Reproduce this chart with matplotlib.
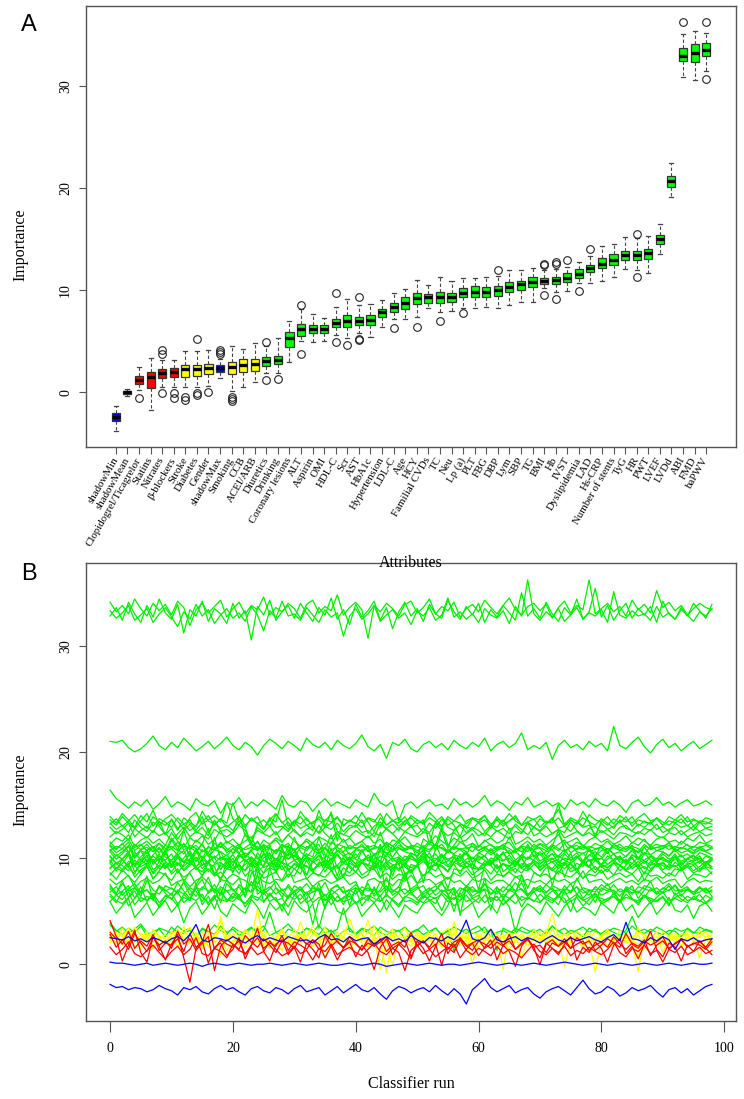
import matplotlib
matplotlib.use("Agg")
import matplotlib.pyplot as plt
import numpy as np

# ---------------- Panel A data (box statistics per attribute) ----------------
attributes = ["shadowMin", "shadowMean", "Clopidogrel/Ticagrelor", "Statins", "Nitrates",
              "β-blockers", "Stroke", "Diabetes", "Gender", "shadowMax", "Smoking", "CCB",
              "ACEI/ARB", "Diuretics", "Drinking", "Coronary lesions", "ALT", "Aspirin", "OMI",
              "HDL-C", "Scr", "AST", "HbA1c", "Hypertension", "LDL-C", "Age", "HCY",
              "Familial CVDs", "TC", "Neu", "Lp (a)", "PLT", "FBG", "DBP", "Lym", "SBP", "TG",
              "BMI", "Hb", "IVST", "Dyslipidemia", "LAD", "Hs-CRP", "Number of stents", "TyG",
              "HR", "PWT", "LVEF", "LVDd", "ABI", "FMD", "baPWV"]
decision = ["shadow", "shadow", "rejected", "rejected", "rejected", "rejected", "tentative",
            "tentative", "tentative", "shadow", "tentative", "tentative", "tentative"] + ["confirmed"] * 39

box_median = [-2.4, 0.0, 1.25, 1.53, 1.86, 1.95, 2.25, 2.25, 2.35, 2.35, 2.45, 2.67, 2.77,
              3.09, 3.16, 5.34, 6.16, 6.19, 6.19, 6.81, 7.0, 7.0, 7.07, 7.83, 8.38, 8.77, 9.2,
              9.3, 9.3, 9.36, 9.68, 9.85, 9.85, 10.0, 10.33, 10.6, 10.82, 10.92, 11.0, 11.2,
              11.57, 12.2, 12.6, 12.95, 13.43, 13.4, 13.6, 15.0, 20.67, 32.9, 33.17, 33.5]
box_q1 = [-2.78, -0.12, 0.81, 0.39, 1.43, 1.47, 1.53, 1.6, 1.76, 2.02, 1.76, 2.0, 2.11,
          2.57, 2.74, 4.46, 5.54, 5.83, 5.77, 6.36, 6.42, 6.58, 6.58, 7.34, 7.89, 8.15, 8.64,
          8.77, 8.77, 8.87, 9.29, 9.29, 9.36, 9.45, 9.78, 10.0, 10.27, 10.6, 10.57, 10.82,
          11.15, 11.8, 12.13, 12.5, 12.95, 12.95, 13.0, 14.55, 20.12, 32.42, 32.35, 32.9]
box_q3 = [-2.05, 0.1, 1.62, 2.0, 2.25, 2.4, 2.67, 2.67, 2.77, 2.67, 3.0, 3.3, 3.3,
          3.42, 3.55, 5.93, 6.65, 6.58, 6.58, 7.17, 7.56, 7.4, 7.56, 8.12, 8.77, 9.29, 9.68,
          9.59, 9.85, 9.68, 10.17, 10.4, 10.3, 10.43, 10.8, 10.9, 11.3, 11.2, 11.3, 11.64,
          12.03, 12.5, 13.1, 13.55, 13.86, 13.85, 14.05, 15.4, 21.16, 33.73, 34.05, 34.15]
box_whislo = [-3.75, -0.4, 0.22, -1.7, 0.55, 0.55, 0.49, 0.55, 0.62, 1.37, 0.16, 0.55, 0.98,
              1.86, 1.86, 3.0, 5.05, 4.95, 5.05, 5.6, 5.28, 5.77, 5.38, 6.42, 7.14, 7.14, 7.4,
              8.22, 7.89, 7.95, 8.22, 8.28, 8.38, 8.25, 8.54, 8.87, 8.8, 10.17, 9.85, 9.94,
              10.7, 10.7, 10.9, 11.3, 12.03, 11.97, 11.64, 13.53, 19.08, 30.9, 30.56, 31.4]
box_whishi = [-1.35, 0.35, 2.5, 3.4, 3.16, 3.16, 4.04, 4.0, 4.14, 3.3, 4.53, 4.24, 4.79,
              4.5, 5.28, 7.0, 8.12, 7.63, 7.3, 8.38, 9.1, 8.54, 8.64, 9.03, 9.68, 10.1, 11.0,
              10.5, 11.25, 10.9, 11.2, 11.2, 11.3, 11.4, 11.97, 11.97, 12.2, 12.0, 12.07, 12.3,
              12.78, 13.34, 14.35, 14.48, 15.2, 15.1, 15.3, 16.44, 22.4, 35.1, 35.4, 35.2]
box_fliers = [[], [], [-0.6], [], [4.1, 3.75, -0.1], [-0.04, -0.6], [-0.43, -0.75],
              [5.2, -0.1, -0.26], [0.06], [4.14, 3.97, 3.75], [-0.5, -0.7, -0.8], [], [],
              [4.9, 1.2], [1.3], [], [8.54, 3.75], [], [], [9.75, 4.95], [4.63],
              [9.3, 5.19, 5.12], [], [], [6.29], [], [6.42], [], [7.0], [], [7.73], [], [],
              [11.95], [], [], [], [12.6, 12.45, 9.52], [12.8, 12.6, 9.13], [12.95], [9.94],
              [14.0], [], [], [], [15.46, 11.3], [], [], [], [36.2], [], [36.2, 30.7]]

# ---------------- Panel B data (importance history per classifier run) ----------------
h_shadowMin = [
-1.9,-2.2,-2.1,-2.4,-2.2,-2.3,-2.6,-2.4,-2.0,-2.3,
-2.5,-2.9,-2.2,-2.4,-2.1,-2.6,-2.8,-2.3,-2.0,-2.4,
-2.2,-2.6,-2.9,-2.3,-2.1,-2.5,-2.7,-2.2,-2.4,-2.8,
-2.3,-2.0,-2.6,-2.4,-2.2,-2.9,-2.5,-2.1,-2.7,-2.3,
-1.9,-2.4,-2.6,-2.2,-2.8,-3.3,-2.5,-2.1,-2.3,-2.7,
-2.4,-2.2,-2.6,-2.0,-2.5,-2.9,-2.3,-2.8,-3.75,-2.4,
-1.9,-1.35,-2.2,-2.6,-2.3,-2.0,-2.7,-2.4,-2.2,-2.8,
-3.2,-2.6,-2.3,-2.1,-2.5,-2.9,-2.2,-1.5,-2.3,-2.8,
-2.6,-2.1,-2.4,-3.0,-2.7,-2.2,-2.5,-2.3,-2.0,-2.6,
-3.1,-2.4,-2.2,-2.7,-2.3,-2.9,-2.5,-2.1,-1.9]
h_shadowMean = [
0.2,0.1,0.1,0.0,-0.1,0.0,0.1,-0.1,0.0,0.1,
0.0,-0.1,0.0,0.1,0.0,-0.2,0.0,0.1,0.0,-0.1,
0.0,0.1,0.0,-0.1,0.0,0.0,0.1,0.0,-0.1,0.0,
0.1,0.0,-0.1,0.0,0.1,0.0,-0.1,-0.1,0.0,0.1,
0.0,-0.1,0.0,0.1,0.0,-0.2,-0.1,0.0,0.1,0.0,
-0.1,0.0,0.1,0.0,-0.1,0.0,0.0,-0.1,0.0,0.1,
0.2,0.1,0.0,-0.1,0.0,0.1,0.0,-0.1,0.0,0.1,
0.0,-0.1,0.0,0.1,0.2,0.1,0.0,-0.1,0.0,0.1,
0.0,-0.1,0.0,0.1,0.0,-0.1,0.0,0.1,0.0,-0.1,
0.0,0.1,0.0,-0.1,0.0,0.1,0.0,0.0,0.1]
h_clopidogrel = [
1.6,0.9,1.4,2.1,1.0,0.7,1.3,1.8,1.1,0.5,
1.2,1.7,0.9,1.4,2.5,1.0,0.8,1.5,1.2,0.6,
1.9,1.3,1.0,1.6,0.9,1.2,2.2,1.4,0.8,1.1,
1.7,1.0,1.3,0.4,1.5,1.2,1.9,0.9,1.3,1.6,
1.1,0.8,1.4,2.0,1.2,0.9,1.5,1.1,-0.6,1.3,
1.8,1.0,1.4,0.7,1.2,1.6,1.1,2.3,1.3,0.9,
1.5,1.2,0.8,1.7,1.0,1.4,1.1,0.6,1.3,1.9,
1.2,0.9,1.5,1.1,1.7,0.8,1.3,1.0,1.6,1.2,
0.9,1.4,2.1,1.1,0.7,1.5,1.2,1.8,1.0,1.3,
0.2,1.4,1.1,1.7,0.9,1.2,1.6,1.0,1.3]
h_statins = [
3.0,2.4,0.3,1.8,3.2,1.1,0.2,2.6,1.7,0.4,
1.9,2.8,0.6,-1.7,1.5,2.2,0.1,1.6,2.0,0.8,
1.4,2.5,0.5,1.8,3.4,1.2,0.3,1.9,2.3,0.9,
1.6,0.2,2.0,1.4,0.6,2.7,1.7,0.4,1.5,2.1,
0.7,1.8,1.1,-0.5,1.6,2.4,0.9,1.9,1.3,0.5,
2.2,1.5,0.3,1.7,2.9,1.0,1.9,0.6,1.4,2.0,
0.8,1.6,2.3,0.4,1.8,1.2,-0.2,1.7,2.5,1.3,
0.6,2.0,1.5,0.9,1.9,2.6,0.4,1.6,1.1,2.1,
1.5,0.2,1.8,2.4,1.0,1.7,0.5,1.9,3.1,1.4,
0.7,2.0,1.6,0.3,1.8,1.2,2.2,1.5,0.9]
h_nitrates = [
4.1,2.6,1.9,3.1,1.5,2.2,1.7,2.8,1.3,2.0,
1.8,2.4,1.2,2.9,1.6,2.1,3.75,1.4,2.3,1.9,
1.6,2.2,0.9,1.8,2.5,1.5,2.0,1.7,2.7,1.3,
2.1,1.8,1.4,2.3,1.9,0.6,1.7,2.2,1.5,2.6,
1.9,1.4,2.0,1.7,2.4,1.2,1.8,2.1,1.6,3.0,
1.7,2.2,1.4,1.9,-0.1,2.0,1.6,2.5,1.8,1.3,
2.2,1.9,1.5,2.1,1.7,2.8,1.4,1.9,2.3,1.6,
1.8,1.1,2.0,1.7,2.4,1.5,1.9,2.2,1.3,1.8,
2.1,1.6,2.6,1.9,1.4,2.0,1.7,2.3,0.8,1.8,
2.2,1.5,1.9,2.4,1.6,2.0,1.8,1.4,2.1]
h_bblockers = [
2.8,1.6,2.3,1.4,2.9,2.0,1.2,2.5,1.8,2.2,
1.5,3.1,1.9,2.4,1.3,2.0,2.6,-0.6,1.7,2.3,
1.9,1.4,2.7,2.1,1.6,2.4,1.8,1.1,2.2,2.0,
1.5,2.5,1.9,2.3,1.4,1.8,2.9,2.1,1.6,2.2,
2.0,1.3,2.4,1.7,2.1,2.6,1.5,1.9,2.3,0.7,
1.8,2.2,1.6,2.5,1.9,1.4,2.1,2.4,1.7,2.0,
2.3,1.5,1.9,2.6,1.8,2.2,1.4,2.0,2.4,1.6,
-0.05,1.9,2.3,1.7,2.1,1.5,2.5,1.9,2.2,1.3,
1.8,2.4,2.0,1.6,2.9,1.9,1.5,2.2,1.8,2.1,
2.6,1.4,2.0,2.3,1.7,1.9,2.2,1.6,2.4]
h_stroke = [
2.6,1.9,2.4,3.2,1.6,2.2,2.8,1.4,2.5,2.0,
2.3,1.7,3.6,2.1,2.5,1.5,2.7,2.2,0.9,2.4,
2.0,2.6,1.6,2.3,2.9,1.8,2.5,2.2,1.3,2.6,
2.1,4.0,2.4,1.7,2.2,2.6,1.9,2.4,1.5,2.3,
2.7,2.0,1.6,2.5,-0.45,2.2,2.8,1.8,2.4,2.1,
1.7,2.5,2.3,1.5,2.6,2.0,2.9,1.8,2.3,2.5,
1.6,2.2,2.7,1.9,2.4,1.4,2.1,2.6,2.3,1.8,
2.5,2.0,3.3,2.2,1.6,2.4,2.7,1.9,2.2,-0.75,
2.3,2.6,1.7,2.1,2.5,2.0,2.8,1.5,2.4,2.2,
1.9,2.6,2.1,1.6,2.4,2.7,2.0,2.3,1.8]
h_diabetes = [
2.0,2.7,1.8,2.3,2.6,1.5,2.4,2.9,1.9,2.2,
2.6,1.7,2.3,2.0,2.8,1.6,2.5,2.1,2.4,1.3,
2.2,2.7,1.9,2.4,5.2,2.1,1.6,2.5,2.3,1.8,
2.6,2.0,2.4,1.7,2.2,3.5,1.9,2.3,2.6,1.4,
2.1,2.5,1.8,2.3,2.7,2.0,-0.1,2.4,2.2,1.7,
2.6,1.9,2.3,2.5,1.6,2.1,4.0,2.2,1.8,2.4,
2.7,2.0,1.5,2.3,2.6,1.9,2.2,2.5,1.7,2.4,
2.1,2.8,1.9,2.3,-0.25,2.2,2.6,1.8,2.4,2.0,
2.5,1.6,2.3,2.7,2.0,2.2,1.9,2.5,2.3,1.7,
2.4,2.1,2.6,1.8,2.2,2.5,0.6,2.3,2.0]
h_gender = [
2.2,2.8,1.9,2.5,2.3,1.7,2.7,2.1,2.6,2.4,
1.8,2.9,2.3,2.0,2.6,2.4,1.6,2.8,2.2,2.5,
2.7,2.0,2.4,1.9,3.3,2.6,2.2,1.8,2.5,2.3,
2.0,2.7,2.4,1.7,2.6,2.2,2.9,2.0,2.4,2.6,
1.9,2.5,4.15,2.3,2.0,2.7,2.2,1.8,2.5,2.4,
2.8,2.1,2.6,1.7,2.3,2.5,2.0,2.7,2.4,0.05,
2.2,2.6,1.9,2.4,2.8,2.1,2.5,2.3,1.8,2.6,
2.4,2.0,2.7,2.2,1.9,2.5,2.3,2.8,2.0,2.4,
2.6,1.7,2.3,2.5,2.1,2.7,0.8,2.4,2.2,2.6,
1.9,2.4,2.7,2.1,2.5,2.3,1.8,2.6,2.2]
h_shadowMax = [
2.5,2.4,2.3,2.6,2.2,2.4,2.1,2.5,2.3,2.0,
2.4,2.6,2.2,2.8,3.75,2.3,2.1,2.5,2.4,2.2,
2.6,2.3,2.0,2.4,2.7,2.2,2.5,2.3,2.1,2.6,
2.4,2.2,2.3,2.0,2.5,2.8,2.3,2.4,2.1,2.6,
2.2,2.4,2.5,1.9,2.3,2.6,2.2,2.4,2.1,2.7,
2.3,2.0,2.5,2.4,2.2,2.6,2.3,2.9,4.15,2.4,
2.2,2.5,3.3,2.3,2.1,2.4,2.6,2.2,2.5,2.3,
2.0,2.4,2.7,2.3,2.1,2.5,2.2,2.4,2.6,2.3,
2.1,2.5,2.8,2.2,3.95,2.4,2.3,2.0,2.5,2.2,
2.6,2.3,1.4,2.4,2.2,2.5,2.1,2.3,2.4]
h_smoking = [
2.9,2.0,3.4,1.8,2.6,2.3,3.1,1.6,2.5,2.8,
2.1,3.3,2.4,1.9,2.7,3.0,1.7,2.4,4.5,2.2,
2.6,1.8,3.1,2.5,2.0,2.8,1.5,2.4,3.2,2.1,
2.7,2.3,1.9,2.9,2.5,0.6,2.2,3.0,2.6,1.8,
2.4,2.9,2.1,3.6,2.3,-0.8,2.7,2.0,2.5,3.1,
1.9,2.6,2.2,2.9,1.7,2.4,3.0,2.3,2.7,1.6,
2.5,3.2,2.0,2.6,-0.5,2.8,2.2,1.9,2.7,2.4,
3.0,2.1,2.5,1.8,2.9,2.3,2.6,1.4,2.8,2.2,
2.5,3.3,1.9,2.4,2.7,2.0,-0.7,2.6,2.3,3.0,
2.1,2.7,2.4,1.7,2.9,2.2,2.6,3.1,2.0]
h_ccb = [
3.1,2.4,2.9,2.0,3.5,2.7,2.2,3.3,2.5,1.9,
2.8,3.2,2.3,2.6,3.0,1.8,2.9,2.4,3.4,2.1,
2.7,3.1,2.5,2.0,3.6,2.8,2.2,2.6,3.3,2.4,
1.7,2.9,2.6,3.2,2.3,2.8,2.0,3.0,2.5,4.25,
2.7,2.2,3.1,2.6,1.9,2.8,3.3,2.4,2.7,2.1,
3.0,2.5,2.8,1.6,2.9,3.4,2.3,2.6,3.1,2.2,
2.8,2.4,3.2,2.7,2.0,2.5,3.0,0.55,2.6,2.9,
2.3,3.3,2.5,2.8,2.1,3.1,2.6,2.4,3.0,1.8,
2.7,3.2,2.4,2.6,2.9,2.2,3.4,2.5,2.8,2.0,
3.1,2.6,2.3,2.9,2.7,2.1,3.2,2.5,2.8]
h_acei = [
2.3,3.0,2.6,3.4,2.1,2.9,2.5,3.2,2.7,1.8,
3.1,2.4,2.8,3.5,2.2,2.7,3.0,2.4,4.1,2.6,
2.9,2.2,3.3,2.6,2.0,3.1,2.8,2.4,3.0,2.5,
3.3,2.1,2.7,3.6,2.4,2.9,2.6,2.2,3.2,2.8,
2.5,3.0,1.5,2.7,3.2,2.4,2.9,2.6,3.4,2.2,
2.8,2.5,3.1,2.7,2.0,2.9,3.3,2.6,2.4,3.0,
2.7,2.2,3.2,2.8,2.5,3.0,2.4,2.9,2.1,3.3,
2.6,2.8,4.8,2.5,2.9,2.3,3.1,2.7,2.4,3.0,
2.6,2.9,2.2,3.2,2.7,2.5,3.0,2.8,2.3,3.1,
1.0,2.7,2.9,2.4,3.2,2.6,2.8,3.0,2.5]
h_diuretics = [
3.9,3.2,2.8,3.4,3.0,3.6,2.7,3.1,3.3,2.6,
3.5,3.0,2.9,3.2,2.5,3.4,3.1,2.8,3.6,3.0,
3.3,2.7,3.1,3.5,2.9,3.2,4.9,3.0,2.6,3.3,
3.1,2.8,3.4,3.0,3.7,2.9,3.2,2.6,3.1,3.4,
2.8,3.3,3.0,2.7,3.5,3.1,2.9,3.2,2.4,3.0,
3.3,2.8,3.1,3.4,2.7,3.2,1.2,3.0,3.3,2.9,
3.1,3.5,2.6,3.0,3.2,2.8,3.4,3.1,2.9,3.3,
2.7,3.0,3.6,3.1,2.8,3.2,3.0,2.6,3.4,3.1,
2.9,3.3,3.0,2.7,3.2,4.5,3.1,2.9,3.3,3.0,
2.8,3.2,3.1,2.6,3.4,3.0,2.9,3.3,3.1]
h_drinking = [
3.7,3.1,3.5,2.9,3.3,3.8,3.0,2.7,3.4,3.2,
2.9,3.6,3.1,3.4,2.6,3.3,3.0,3.7,3.2,2.8,
3.5,3.1,2.9,3.4,3.2,3.6,2.7,3.0,3.3,3.8,
3.1,2.9,3.4,3.2,2.8,3.5,3.0,3.3,5.3,3.1,
2.9,3.4,3.2,3.6,3.0,2.7,3.3,3.1,3.5,2.9,
3.2,3.7,3.0,3.4,2.8,3.1,3.5,3.2,2.9,3.3,
3.6,3.0,3.2,1.3,3.4,3.1,2.9,3.5,3.2,3.0,
3.3,2.8,3.6,3.1,3.4,2.9,3.2,3.5,3.0,3.3,
2.7,3.1,3.4,3.2,2.9,3.6,3.1,3.3,3.0,3.5,
3.2,2.8,3.4,3.1,3.3,2.9,3.5,3.2,3.0]
h_coronary = [
5.9,4.8,5.5,6.2,4.4,5.1,5.8,4.6,5.4,6.0,
4.9,5.6,3.9,5.3,5.9,4.7,5.5,6.4,5.0,4.5,
5.7,5.2,4.8,6.1,5.4,4.3,5.8,5.1,5.6,4.6,
6.0,5.3,4.9,5.7,3.4,5.5,6.3,5.0,4.7,5.4,
5.9,4.5,5.2,5.8,4.9,6.1,5.3,4.4,5.6,5.1,
4.8,5.7,6.0,5.2,4.6,5.5,7.0,4.9,5.3,5.8,
4.4,5.1,5.6,4.8,6.2,5.4,3.0,5.0,5.7,5.3,
4.7,5.9,5.2,4.5,5.5,6.0,4.9,5.4,5.1,4.6,
5.8,5.3,4.8,6.1,5.0,5.6,4.4,5.2,5.9,4.7,
5.4,6.3,5.1,4.9,5.6,4.3,5.5,5.8,5.0]
h_alt = [
6.4,5.8,6.9,5.5,6.2,7.3,5.9,6.6,5.3,6.1,
6.7,5.7,6.3,6.0,7.6,5.6,6.4,5.2,6.8,6.1,
5.9,6.5,5.4,6.2,8.55,5.8,6.6,6.0,5.5,6.3,
6.9,5.7,6.2,3.75,6.0,6.6,5.6,6.4,5.9,6.1,
7.0,5.5,6.3,5.8,6.5,5.1,6.2,6.7,5.9,6.0,
5.6,6.4,6.1,5.7,6.8,6.3,5.5,6.0,6.5,5.8,
6.2,8.1,5.9,6.4,5.6,6.1,6.7,5.4,6.3,6.0,
5.8,6.5,6.2,5.6,6.9,5.9,6.3,5.5,6.1,6.6,
5.7,6.0,6.4,5.8,7.1,6.2,5.6,6.5,6.0,5.9,
6.3,5.5,6.7,6.1,5.8,6.4,6.0,5.7,6.2]
h_aspirin = [
5.9,6.5,6.1,6.8,5.6,6.3,6.0,6.7,5.8,6.4,
6.2,5.5,6.6,6.0,7.2,6.3,5.8,6.5,6.1,5.9,
6.7,6.2,5.7,6.4,6.0,6.8,5.9,6.3,5.0,6.5,
6.1,6.6,5.8,6.2,7.65,6.0,6.4,5.9,6.3,6.7,
5.7,6.1,6.5,6.2,5.9,6.6,6.0,5.4,6.3,6.8,
6.1,5.8,6.4,6.2,6.6,5.9,6.3,6.0,7.0,6.2,
5.8,6.5,6.1,6.4,5.6,6.2,6.7,6.0,6.3,5.9,
6.6,6.1,5.8,6.4,6.2,4.95,6.5,6.0,6.3,6.7,
5.9,6.2,6.4,5.8,6.6,6.1,6.0,6.5,5.7,6.3,
6.8,6.0,6.2,5.9,6.4,6.1,6.6,5.8,6.3]
h_omi = [
6.6,6.0,5.7,6.3,6.9,5.9,6.4,6.1,5.5,6.5,
6.2,6.8,5.8,6.3,6.0,6.6,5.6,6.2,7.1,5.9,
6.4,6.1,5.7,6.5,6.3,5.9,6.7,6.0,6.2,5.4,
6.5,6.1,6.8,5.8,6.3,6.0,6.6,5.9,6.2,6.4,
5.7,6.3,6.0,7.3,5.9,6.5,6.1,5.6,6.4,6.2,
5.8,6.6,6.0,6.3,5.05,6.4,6.1,6.7,5.9,6.2,
6.5,5.8,6.3,6.0,6.6,6.2,5.7,6.4,6.1,6.9,
5.9,6.3,6.0,6.5,5.8,6.2,6.6,6.1,5.6,6.4,
6.2,6.0,6.7,5.9,6.3,6.1,5.8,6.5,6.2,6.0,
6.4,5.7,6.3,6.6,6.0,6.2,5.9,6.5,6.1]
h_hdlc = [
7.1,6.5,6.9,7.4,6.2,6.8,7.0,6.4,7.3,6.7,
6.1,7.0,6.6,7.2,6.9,5.9,6.8,7.5,6.5,6.9,
7.1,6.3,6.8,9.75,6.6,7.0,6.4,7.2,6.7,6.2,
6.9,7.3,6.5,6.8,7.1,6.4,7.0,6.6,5.6,6.9,
7.2,6.7,6.3,7.0,6.8,7.4,6.5,6.9,7.1,6.6,
6.2,6.8,7.2,6.5,7.0,6.7,4.95,6.9,7.3,6.4,
6.8,7.1,6.6,6.9,6.3,7.0,6.7,8.4,6.5,6.8,
7.2,6.4,6.9,7.0,6.6,6.8,7.3,6.2,6.9,7.1,
6.5,6.8,7.0,6.4,7.2,6.7,6.9,6.3,7.1,6.6,
6.8,7.4,6.5,6.9,7.0,6.6,6.8,7.2,6.4]
h_scr = [
7.5,6.6,7.9,6.3,7.2,6.8,8.3,6.0,7.4,7.0,
6.5,7.7,6.9,6.2,7.3,8.0,6.7,7.1,5.8,7.6,
6.9,7.3,6.4,7.8,7.0,6.6,9.1,7.2,6.3,7.5,
6.8,7.1,6.1,7.4,6.9,7.7,6.5,7.0,7.3,5.5,
7.2,6.7,7.6,6.4,7.0,8.2,6.8,7.3,6.6,7.1,
7.5,6.2,7.0,6.9,7.8,6.5,7.2,4.6,7.4,6.8,
7.0,7.6,6.6,7.3,6.1,7.1,6.9,7.7,6.4,7.2,
6.8,7.5,7.0,6.3,7.4,6.7,8.1,7.0,6.5,7.3,
6.9,7.6,6.6,7.1,6.8,7.4,6.2,7.0,7.8,6.6,
7.2,6.9,7.5,6.4,7.1,6.8,7.3,6.7,7.0]
h_ast = [
6.8,7.3,6.5,7.1,7.6,6.7,7.0,6.2,7.4,6.9,
7.2,6.6,7.8,7.0,6.4,7.3,6.9,7.1,6.6,8.0,
7.0,6.5,7.2,6.8,9.3,6.9,7.3,6.6,7.1,6.3,
7.4,7.0,6.7,7.2,6.9,5.2,7.1,7.5,6.8,7.0,
6.6,7.3,6.9,7.1,6.4,7.2,7.0,6.7,8.55,6.9,
7.3,6.6,7.0,7.4,6.8,7.1,6.5,7.2,6.9,7.3,
6.7,7.0,5.1,7.2,6.8,7.5,6.9,7.1,6.6,7.0,
7.4,6.8,7.2,6.5,7.1,6.9,7.3,6.7,7.0,5.8,
7.2,6.9,7.5,6.8,7.0,6.6,7.3,7.1,6.9,7.2,
6.7,7.0,7.4,6.8,7.1,6.6,7.2,6.9,7.3]
h_hba1c = [
7.3,6.7,7.6,6.9,7.2,6.4,7.9,7.0,6.6,7.4,
7.1,6.8,7.7,6.5,7.2,7.0,8.2,6.7,7.3,6.9,
6.2,7.5,7.0,6.8,7.4,6.6,7.1,7.8,6.9,7.3,
6.5,7.0,7.6,6.8,7.2,5.4,7.1,7.4,6.7,7.0,
7.5,6.9,7.2,6.6,7.8,7.0,6.8,7.3,8.65,6.7,
7.1,7.4,6.5,7.0,7.6,6.9,7.2,6.3,7.4,7.0,
6.8,7.5,7.1,6.6,7.3,6.9,7.7,7.0,6.4,7.2,
7.0,6.7,7.4,7.1,6.9,7.6,6.6,7.2,7.0,6.8,
7.5,7.1,6.9,5.9,7.3,7.0,6.7,7.4,7.2,6.8,
7.1,7.6,6.9,7.0,7.3,6.6,7.2,7.0,6.8]
h_hypertension = [
8.0,7.5,7.9,8.4,7.2,7.8,8.1,7.6,7.9,8.6,
7.4,7.8,8.0,7.3,7.9,8.2,7.7,6.8,8.0,7.8,
7.5,8.1,7.9,7.4,8.3,7.8,7.6,8.0,7.9,9.05,
7.7,7.9,8.1,7.3,7.8,8.0,7.6,7.9,8.2,7.5,
7.8,6.4,7.9,8.1,7.7,7.9,7.4,8.0,7.8,8.4,
7.6,7.9,8.0,7.5,7.8,8.2,7.7,7.9,7.3,8.0,
7.8,8.1,7.6,7.9,7.9,7.4,8.3,7.8,8.0,7.7,
7.9,7.5,8.1,7.8,8.0,7.6,7.9,8.8,7.7,7.9,
8.0,7.4,7.8,8.1,7.7,7.9,7.5,8.0,7.8,8.2,
7.6,7.9,8.0,7.2,7.8,8.1,7.7,7.9,7.8]
h_ldlc = [
8.6,8.0,8.9,8.3,7.7,8.5,9.2,8.1,8.7,8.4,
7.9,8.8,8.2,8.6,7.5,8.4,9.0,8.3,8.7,8.0,
8.5,8.2,6.3,8.6,8.9,8.1,8.4,8.7,7.8,8.5,
8.3,9.4,8.0,8.6,8.4,8.2,8.8,7.9,8.5,8.3,
8.7,8.1,8.4,9.7,8.2,8.6,8.0,8.5,8.3,8.9,
7.6,8.4,8.7,8.2,8.5,8.0,8.6,8.3,8.8,8.1,
8.4,8.9,7.9,8.5,8.3,8.7,8.2,8.4,7.15,8.6,
8.3,8.5,8.0,8.8,8.4,8.2,8.7,8.1,8.5,8.3,
8.9,8.0,8.4,8.6,8.2,8.5,7.8,8.7,8.3,8.4,
8.1,8.6,8.3,9.1,8.0,8.5,8.4,8.2,8.7]
h_age = [
8.4,9.1,8.7,9.5,8.2,8.9,9.3,8.0,8.8,9.6,
8.5,9.0,7.8,8.7,9.2,8.3,9.7,8.6,8.1,9.0,
8.8,9.4,8.3,8.9,7.5,8.6,9.1,8.8,9.3,8.2,
9.0,8.5,9.8,8.7,8.3,9.2,8.9,8.0,9.1,8.6,
9.4,8.4,8.8,9.0,8.1,9.3,8.7,10.1,8.5,8.9,
9.2,8.3,8.8,9.5,8.6,7.15,9.0,8.8,9.2,8.4,
8.9,9.1,8.5,9.4,8.2,8.8,9.0,8.6,9.3,8.7,
8.3,9.1,8.9,8.5,9.6,8.7,9.0,8.1,8.8,9.2,
8.6,9.0,8.4,9.3,8.8,8.5,9.1,7.9,8.9,9.4,
8.7,8.3,9.0,8.8,9.2,8.6,8.9,9.1,8.5]
h_hcy = [
9.5,8.8,9.9,9.1,8.5,9.6,10.3,8.9,9.3,9.0,
9.8,8.6,9.4,10.6,9.1,8.7,9.5,9.2,7.8,9.7,
9.0,9.4,8.8,10.1,9.3,8.6,9.6,9.2,11.0,8.9,
9.4,9.1,8.4,9.7,9.2,9.5,8.8,9.3,10.0,9.1,
8.7,9.6,9.2,8.9,9.8,6.4,9.4,9.0,9.5,8.6,
9.3,10.2,9.1,8.8,9.6,9.2,9.4,8.5,9.7,9.1,
8.9,9.5,9.3,10.4,8.7,9.2,9.6,9.0,8.8,9.4,
9.1,9.7,7.4,9.3,9.0,9.5,8.9,9.8,9.2,8.6,
9.4,9.1,9.6,8.8,9.3,10.1,9.0,9.2,8.7,9.5,
9.3,8.9,9.6,9.1,9.4,8.8,9.2,9.7,9.0]
h_famcvd = [
9.1,9.5,8.9,9.7,9.3,8.6,9.4,9.9,9.0,9.3,
8.7,9.5,9.2,9.8,8.9,9.4,9.6,8.4,9.3,9.0,
9.7,9.2,8.8,9.5,10.2,9.1,9.4,8.9,9.6,9.3,
9.0,9.5,9.2,8.7,9.4,9.8,9.1,9.3,8.2,9.5,
9.2,9.6,8.9,9.3,9.0,9.7,9.4,8.8,9.5,9.1,
9.3,10.5,9.0,9.4,9.2,8.7,9.6,9.3,9.1,9.5,
8.9,9.2,9.7,9.0,9.4,9.3,8.6,9.5,9.1,9.8,
9.2,9.4,8.8,9.3,9.6,9.0,9.5,9.2,9.9,8.9,
9.3,9.1,9.5,9.4,8.8,9.2,9.7,9.0,9.3,9.6,
8.9,9.4,9.2,9.5,9.1,9.3,8.7,9.6,9.2]
h_tc = [
9.8,9.0,9.5,10.3,8.7,9.4,9.9,8.5,9.2,10.6,
9.1,9.6,8.8,9.3,10.1,9.0,9.7,8.4,9.5,9.2,
10.0,8.9,9.4,9.8,8.6,9.3,11.25,9.1,9.6,8.8,
9.5,9.2,10.2,8.9,9.4,9.7,9.0,9.3,8.2,9.8,
9.1,9.6,9.3,10.4,8.8,9.5,9.0,9.7,9.2,8.6,
9.4,9.9,9.1,9.5,9.3,8.7,10.1,9.2,9.6,9.0,
7.0,9.4,9.8,9.1,9.5,8.9,9.3,10.0,9.2,9.6,
8.8,9.4,9.0,9.7,9.3,10.5,8.9,9.5,9.1,9.8,
9.2,8.7,9.6,9.3,9.9,9.0,9.4,8.5,9.7,9.2,
9.5,9.1,10.2,8.9,9.4,9.6,9.0,9.3,9.8]
h_neu = [
9.0,9.6,9.3,8.8,9.8,9.2,9.5,8.6,9.7,9.1,
9.4,10.2,8.9,9.5,9.2,9.8,8.7,9.4,9.6,9.0,
9.3,8.5,9.7,9.4,9.1,10.5,9.2,9.6,8.9,9.4,
9.8,9.1,9.3,8.8,9.6,9.2,10.9,9.0,9.5,9.3,
8.7,9.6,9.4,9.1,9.8,8.9,9.3,9.5,7.95,9.4,
9.2,9.7,9.0,9.5,9.3,8.8,9.6,10.1,9.2,9.4,
9.0,9.7,9.3,8.6,9.5,9.2,9.8,9.1,9.4,9.6,
8.9,9.3,9.7,9.0,9.5,9.4,8.7,9.6,9.2,10.3,
9.1,9.4,9.8,9.3,8.9,9.5,9.2,9.7,9.0,9.4,
9.6,9.1,9.3,8.8,9.5,9.4,9.7,9.2,9.0]
h_lpa = [
10.1,9.5,9.9,10.4,9.2,9.8,10.6,9.4,10.0,9.7,
9.1,10.2,9.6,9.9,10.8,9.3,9.7,10.1,8.9,9.8,
10.3,9.5,9.9,9.2,10.5,9.7,9.4,10.0,9.6,11.2,
9.8,9.3,10.2,9.6,9.9,8.7,9.7,10.3,9.5,10.0,
9.4,9.8,10.1,9.6,9.2,10.4,9.7,9.9,9.3,10.2,
9.6,7.7,9.8,10.0,9.5,9.7,10.3,9.4,9.9,10.1,
9.6,9.3,10.0,9.8,10.5,9.5,9.7,9.2,10.1,9.8,
9.4,10.0,9.6,9.9,8.2,9.7,10.2,9.5,9.8,10.0,
9.3,9.9,10.4,9.6,9.8,9.5,10.1,9.7,9.4,10.0,
9.8,9.6,10.2,9.3,9.9,9.7,10.0,9.5,9.8]
h_plt = [
9.6,10.3,9.9,9.2,10.6,9.8,9.4,10.2,9.7,10.8,
9.3,10.0,9.6,10.4,9.1,9.9,10.5,9.5,10.1,9.8,
8.6,10.3,9.7,10.0,9.4,11.2,9.8,9.3,10.2,9.9,
10.6,9.5,10.0,9.7,10.3,9.2,9.9,10.4,9.6,10.1,
9.4,10.7,9.8,9.5,10.2,9.9,8.3,10.0,9.7,10.3,
9.6,9.9,10.5,9.3,10.1,9.8,9.6,10.4,9.5,10.0,
9.8,10.2,9.4,9.9,10.6,9.7,9.2,10.1,9.9,10.3,
9.5,9.8,10.0,9.3,10.4,9.8,10.1,9.6,10.9,9.7,
10.0,9.4,9.9,10.2,9.6,10.0,9.3,10.5,9.8,9.7,
10.1,9.5,9.9,10.3,9.6,9.8,10.2,9.4,10.0]
h_fbg = [
10.2,9.5,9.9,10.6,9.3,9.8,10.1,9.6,10.4,9.1,
9.8,10.3,9.7,9.4,10.9,9.9,9.5,10.2,9.8,10.0,
9.3,10.5,9.7,10.1,9.6,9.2,10.3,9.9,9.5,10.7,
9.8,10.0,8.4,9.7,10.2,9.9,9.4,10.4,9.6,10.1,
9.9,9.5,10.3,9.8,11.3,9.6,10.0,9.4,10.2,9.9,
9.7,10.1,9.5,9.8,10.4,9.3,10.0,9.9,10.6,9.6,
10.2,9.8,9.4,10.0,9.7,10.3,9.5,10.1,8.9,9.9,
10.4,9.6,9.9,10.2,9.8,9.5,10.0,10.5,9.7,9.9,
9.4,10.2,9.8,10.0,9.6,10.3,9.9,9.5,10.1,9.8,
10.0,9.7,10.4,9.5,9.9,10.2,9.8,9.6,10.0]
h_dbp = [
9.7,10.3,9.9,10.6,9.4,10.1,10.8,9.6,10.2,9.8,
10.4,9.3,10.0,10.7,9.7,10.2,9.5,11.95,9.9,10.3,
9.6,10.1,10.5,9.8,9.2,10.0,10.4,9.7,10.9,9.9,
10.3,9.5,10.1,9.9,10.6,9.4,10.0,8.3,10.2,9.8,
10.4,9.7,10.0,10.3,9.6,11.4,9.9,10.1,9.5,10.2,
9.8,10.5,10.0,9.4,10.3,9.9,10.1,9.7,10.6,9.6,
10.0,10.2,9.5,10.4,9.8,10.0,9.3,10.3,9.9,10.7,
9.7,10.1,10.4,9.6,10.0,9.8,10.2,9.5,10.3,10.0,
9.9,10.6,9.7,10.1,9.4,10.3,10.0,9.8,10.2,9.6,
10.4,9.9,10.1,9.7,10.0,10.3,9.5,10.2,9.9]
h_lym = [
10.6,9.9,10.4,11.1,10.0,10.7,9.6,10.3,10.9,10.1,
9.8,10.5,11.4,10.2,9.7,10.8,10.3,10.0,10.6,9.4,
10.4,11.0,10.1,10.7,9.9,10.3,10.5,8.55,10.6,10.2,
10.9,9.8,10.4,10.1,11.95,10.3,9.9,10.7,10.2,10.5,
10.0,10.8,9.7,10.4,10.6,10.1,11.2,10.3,9.8,10.5,
10.2,10.7,10.0,10.4,9.6,10.8,10.3,10.1,10.6,9.9,
10.5,10.2,10.9,10.0,10.4,10.7,9.8,10.3,11.3,10.1,
10.6,9.9,10.4,10.2,10.8,10.0,10.5,9.7,10.3,10.6,
10.1,10.9,10.4,9.8,10.2,10.7,10.0,10.5,10.3,9.9,
10.6,10.2,10.8,10.1,10.4,9.9,10.5,10.3,10.0]
h_sbp = [
10.8,10.2,10.6,11.2,10.0,10.7,10.4,11.0,9.8,10.6,
10.9,10.3,10.7,9.5,10.5,11.4,10.1,10.8,10.6,10.2,
10.9,10.4,10.0,10.7,11.1,10.5,9.9,10.8,10.6,10.3,
11.95,10.6,10.1,10.8,10.4,10.9,10.2,10.7,10.5,9.7,
10.8,10.6,11.0,10.3,10.7,10.5,10.1,10.9,10.6,10.4,
10.2,10.8,10.6,11.3,10.0,10.7,10.4,10.9,10.6,8.9,
10.5,10.8,10.3,10.7,11.0,10.4,10.6,10.1,10.9,10.7,
10.3,10.6,10.8,10.0,10.5,11.2,10.6,10.4,10.8,10.2,
10.7,10.9,10.4,10.6,10.1,10.8,10.5,11.0,10.3,10.7,
10.6,10.2,10.9,10.5,10.7,10.4,10.8,10.6,10.3]
h_tg = [
11.1,10.5,10.9,11.5,10.2,10.8,11.3,10.6,11.0,10.3,
11.7,10.8,10.4,11.2,10.9,9.9,11.1,10.7,11.4,10.5,
10.9,11.3,10.2,10.8,11.6,10.6,11.0,10.4,11.2,10.8,
10.1,11.0,10.7,11.4,10.5,10.9,12.2,10.6,11.1,10.3,
10.8,11.3,10.6,10.9,11.1,10.4,10.8,11.5,10.7,11.0,
10.5,11.2,8.8,10.9,11.3,10.6,11.0,10.8,10.3,11.4,
10.7,11.1,10.5,10.9,11.2,10.4,10.8,11.0,10.6,11.3,
10.9,10.2,11.1,10.7,11.4,10.5,10.9,11.2,10.6,10.8,
11.0,10.4,11.3,10.8,10.6,11.1,10.9,10.3,11.2,10.7,
10.9,11.5,10.6,11.0,10.8,10.5,11.1,10.7,10.9]
h_bmi = [
10.7,11.1,10.9,10.5,11.3,10.8,11.0,10.6,11.4,10.9,
11.1,10.7,12.6,10.9,11.2,10.6,11.0,10.8,11.5,10.9,
10.5,11.1,10.8,11.0,10.7,11.3,10.9,10.6,11.2,11.0,
10.8,9.5,11.1,10.9,10.7,11.4,10.8,11.0,10.6,11.2,
10.9,11.1,10.7,11.0,12.45,10.8,10.6,11.2,10.9,11.1,
10.7,11.0,10.8,11.3,10.9,10.5,11.1,10.8,11.0,10.6,
11.2,10.9,10.7,11.1,10.8,12.0,10.9,10.6,11.1,10.8,
11.0,10.7,11.3,10.9,10.6,11.1,10.8,11.0,10.9,10.2,
11.2,10.8,11.0,10.7,11.1,10.9,10.6,11.3,10.8,11.0,
10.9,11.2,10.7,11.0,10.8,11.1,10.9,10.6,11.0]
h_hb = [
11.2,10.8,11.4,10.6,11.0,11.3,10.7,11.1,10.5,11.2,
10.9,11.5,10.8,11.0,10.6,11.3,12.8,10.9,11.1,10.7,
11.2,10.5,11.0,11.4,10.8,11.1,10.9,10.6,11.3,11.0,
10.7,11.2,10.9,11.5,10.8,11.0,10.4,11.3,11.1,10.9,
11.0,10.6,11.2,9.1,10.9,11.3,10.8,11.0,10.7,11.2,
11.1,10.8,11.4,10.9,11.0,10.6,11.2,12.05,10.9,11.1,
10.7,11.0,11.3,10.8,11.2,10.9,10.5,11.1,11.0,10.8,
11.3,10.9,11.1,12.6,10.7,11.0,11.2,10.8,11.1,10.9,
11.0,10.6,11.3,11.0,10.8,11.2,9.85,11.1,10.9,11.0,
11.2,10.8,11.1,10.9,11.3,10.7,11.0,11.2,10.9]
h_ivst = [
11.5,10.9,11.3,11.8,10.7,11.2,11.6,11.0,11.4,10.6,
11.9,11.1,11.3,10.8,11.7,11.2,10.5,11.4,11.0,11.6,
11.2,10.9,12.3,11.1,11.5,10.8,11.3,11.7,11.0,11.4,
10.7,11.2,11.6,11.0,11.3,9.95,11.5,11.1,11.8,10.9,
11.3,11.6,11.0,11.2,10.8,11.5,11.1,11.7,11.2,10.9,
11.4,11.0,11.6,11.2,12.95,11.3,10.8,11.5,11.1,11.4,
11.0,11.7,11.2,10.9,11.3,11.5,10.7,11.2,11.6,11.0,
11.4,11.1,10.8,11.3,11.7,11.0,11.5,11.2,10.9,11.4,
11.1,11.6,11.0,11.3,10.8,11.5,11.2,11.8,11.0,11.3,
11.1,11.4,10.9,11.6,11.2,11.0,11.5,11.3,11.1]
h_dyslipidemia = [
11.3,11.9,11.6,12.2,11.1,11.7,12.0,11.4,11.8,11.2,
12.4,11.6,11.0,11.9,11.5,12.1,11.3,11.7,12.6,11.4,
11.8,11.2,11.6,12.0,10.8,11.7,11.3,11.9,11.5,12.2,
11.6,11.1,11.8,11.4,12.0,11.7,11.3,12.3,11.5,11.9,
11.2,11.6,12.1,11.4,11.8,11.0,11.7,11.5,12.0,11.3,
9.95,11.8,11.4,12.1,11.6,11.2,11.9,11.5,11.7,12.3,
11.1,11.6,11.9,11.4,11.7,12.8,11.3,11.6,12.0,11.5,
11.8,11.2,11.7,12.2,11.4,11.6,11.9,11.1,11.7,12.0,
11.5,11.8,11.3,11.6,12.1,11.4,11.9,11.6,11.2,11.8,
12.0,11.5,11.7,11.3,11.9,11.6,12.2,11.4,11.7]
h_lad = [
12.0,12.5,12.2,11.7,12.8,12.3,11.9,12.6,12.1,12.4,
11.6,12.3,12.9,12.0,12.5,12.2,11.8,12.7,12.3,12.0,
12.4,14.0,12.1,11.9,12.6,12.3,12.0,12.5,11.5,12.2,
12.7,12.0,12.4,12.1,13.1,12.3,11.8,12.5,12.2,12.0,
12.6,12.2,11.9,12.4,12.1,12.8,12.3,11.7,12.5,12.2,
12.0,12.4,12.3,10.7,12.6,12.1,12.4,11.9,12.3,12.7,
12.1,12.4,12.0,12.6,12.2,11.8,12.5,12.3,13.35,12.1,
12.4,12.0,12.3,12.7,11.9,12.2,12.5,12.1,12.4,12.0,
12.6,12.2,11.8,12.4,12.3,12.0,12.5,12.2,12.7,12.1,
11.9,12.4,12.2,12.6,12.0,12.3,12.5,12.1,12.3]
h_hscrp = [
12.9,12.3,12.7,13.3,12.0,12.6,13.0,12.4,13.5,12.2,
12.8,11.8,12.6,13.2,12.4,12.9,12.1,13.6,12.5,12.7,
12.3,13.1,12.6,11.5,12.9,12.4,13.0,12.2,12.8,13.4,
12.5,12.1,12.7,13.0,12.3,12.9,14.35,12.5,12.2,12.8,
13.1,12.4,12.6,12.0,13.2,12.7,12.3,12.9,12.5,13.0,
12.2,12.8,12.4,13.3,12.6,10.9,12.7,13.1,12.4,12.9,
12.6,12.1,13.0,12.5,12.8,12.3,13.2,12.7,12.2,12.9,
12.5,13.0,12.3,12.7,12.4,13.4,12.6,12.1,12.8,13.0,
12.4,12.7,12.2,12.9,13.1,12.5,12.3,12.8,12.6,13.2,
12.4,12.7,12.9,12.2,12.6,13.0,12.5,12.8,12.6]
h_nstents = [
13.3,12.7,13.1,12.4,13.6,12.9,12.5,13.4,13.0,12.2,
13.7,12.8,13.2,12.6,13.0,13.9,12.4,13.3,12.8,13.1,
12.6,13.5,12.9,11.3,13.2,12.7,13.6,12.9,13.0,12.5,
13.4,12.8,13.1,12.6,14.5,13.0,12.7,13.3,12.5,13.1,
12.9,13.6,12.3,13.0,13.4,12.8,13.2,12.6,13.5,12.9,
13.1,12.4,13.3,12.8,13.7,12.9,12.6,13.2,13.0,12.7,
13.4,12.5,13.1,12.9,13.6,12.7,13.0,12.4,13.3,12.9,
12.6,13.2,13.8,12.8,13.0,12.5,13.4,12.9,13.1,12.2,
13.3,12.7,13.0,13.5,12.8,12.6,13.2,12.9,13.4,12.7,
13.0,12.5,13.3,12.9,13.1,12.6,13.4,12.8,13.0]
h_tyg = [
13.6,13.1,13.9,13.3,12.8,13.5,14.2,13.0,13.7,13.4,
12.9,13.8,13.2,13.6,12.6,13.4,14.0,13.1,13.7,13.3,
15.2,13.5,12.9,13.8,13.2,13.6,13.0,14.1,13.4,12.7,
13.5,13.9,13.1,13.4,13.7,12.9,13.3,13.8,13.0,13.6,
13.2,14.3,13.4,12.5,13.8,13.1,13.5,13.3,13.9,13.0,
13.6,13.2,13.8,13.4,12.9,13.7,13.1,12.0,13.5,13.8,
13.3,13.6,13.0,13.9,13.2,13.5,14.0,13.1,13.4,13.7,
12.9,13.5,13.3,13.8,13.0,13.6,13.2,14.4,13.4,13.1,
13.7,13.3,12.8,13.6,13.4,13.9,13.0,13.5,13.2,13.8,
13.4,13.1,13.6,13.3,13.9,13.0,13.5,13.4,13.2]
h_hr = [
13.2,13.7,13.0,13.5,14.1,13.3,12.8,13.9,13.4,13.1,
13.6,12.6,13.8,13.3,13.0,14.4,13.5,13.2,13.7,12.9,
13.4,13.9,13.1,13.6,13.3,12.7,13.8,13.4,15.5,13.0,
13.5,13.2,13.8,13.0,12.4,13.6,13.4,13.9,13.1,13.5,
13.3,12.9,13.7,13.4,14.2,13.1,13.6,13.0,13.5,13.8,
13.2,13.6,11.3,13.4,13.9,13.1,13.5,13.3,12.8,13.7,
13.4,14.0,13.2,13.6,13.0,13.5,13.8,13.1,13.4,12.9,
13.7,13.3,13.5,15.1,13.0,13.6,13.2,13.8,13.4,11.95,
13.5,13.1,13.7,13.3,13.9,13.0,13.6,13.4,13.2,13.8,
13.1,13.5,13.3,13.7,13.0,13.6,13.4,13.2,13.5]
h_pwt = [
13.9,13.3,14.2,13.6,12.9,14.0,13.4,14.5,13.1,13.7,
14.1,13.5,12.7,13.8,14.3,13.2,13.6,14.0,13.4,15.3,
13.7,13.1,14.1,13.5,13.9,12.8,13.6,14.2,13.3,13.8,
13.0,14.4,13.6,13.2,13.9,13.5,14.1,11.6,13.7,13.4,
14.0,13.3,13.8,13.6,12.9,14.2,13.5,13.8,13.1,14.0,
13.6,13.3,14.3,13.7,13.0,13.9,13.5,14.1,13.2,13.8,
13.6,14.0,12.8,13.7,13.4,14.2,13.5,13.1,13.9,13.6,
14.0,13.3,13.7,14.6,13.2,13.8,13.5,13.0,14.1,13.6,
13.4,13.9,13.2,14.0,13.6,13.3,13.8,14.2,13.5,13.7,
13.1,13.9,13.6,14.1,13.4,13.7,13.3,13.8,13.6]
h_lvef = [
16.4,15.6,15.2,14.7,15.3,14.9,15.5,14.6,15.1,15.8,
14.8,15.3,15.0,14.5,15.6,15.1,14.9,15.4,14.2,15.2,
15.0,15.7,14.7,15.3,14.9,15.5,15.1,14.6,15.9,15.0,
14.8,15.4,15.2,14.4,15.1,15.6,14.9,15.3,15.0,14.7,
15.5,15.1,14.8,16.1,15.2,14.9,15.4,13.5,15.0,15.3,
14.7,15.2,15.5,14.9,15.1,14.6,15.6,15.0,15.3,14.8,
15.2,15.9,14.9,15.4,15.1,14.5,15.3,15.0,15.7,14.8,
15.1,15.4,14.9,15.2,14.6,15.5,15.0,15.3,14.8,15.6,
15.1,14.9,15.4,15.0,14.3,15.2,15.5,14.9,15.1,15.7,
15.0,15.3,14.8,15.2,15.5,14.9,15.1,15.4,15.0]
h_lvdd = [
21.0,20.9,21.1,20.4,20.0,20.3,20.8,21.5,20.6,20.2,
20.9,20.4,21.3,20.7,20.1,20.5,21.0,20.3,20.8,21.4,
20.6,20.2,20.9,20.5,19.7,20.6,21.2,20.8,20.3,21.0,
20.6,20.1,21.3,20.7,20.4,20.9,20.2,21.1,20.6,20.3,
20.8,21.6,20.5,20.1,20.7,19.4,20.9,20.6,21.2,20.3,
20.0,20.7,21.0,20.4,20.8,20.2,21.1,20.6,20.3,20.9,
20.5,21.3,20.1,20.7,21.0,20.4,20.8,21.8,20.2,20.6,
20.3,20.9,19.3,20.6,21.1,20.4,20.7,20.2,21.0,20.5,
20.8,20.1,22.4,20.6,20.3,20.9,21.4,20.5,19.9,20.7,
21.2,20.4,20.8,20.1,20.6,21.0,20.3,20.7,21.1]
h_abi = [
33.3,32.6,33.1,33.8,32.4,32.9,33.5,32.2,33.0,33.6,
32.7,31.8,33.2,32.5,33.9,32.8,33.4,32.1,32.9,33.5,
32.6,33.1,32.3,33.7,32.9,31.4,33.3,32.6,34.2,32.8,
33.0,32.4,33.6,32.9,32.2,33.4,32.7,33.1,30.9,32.8,
33.5,32.5,33.0,33.8,32.3,32.9,33.4,32.6,33.1,32.0,
33.3,32.8,33.6,32.4,32.9,34.5,32.7,33.2,32.5,33.0,
32.2,33.5,32.9,32.6,33.3,32.1,33.7,32.8,36.2,33.0,
32.4,33.2,32.7,33.5,32.3,32.9,33.6,32.5,33.1,32.8,
33.4,32.2,35.1,32.9,32.6,33.3,32.8,33.0,32.4,33.7,
32.7,33.1,32.5,33.4,32.9,32.3,33.2,32.8,33.5]
h_fmd = [
32.8,33.6,32.4,34.1,33.0,32.2,33.8,32.7,34.4,33.1,
32.5,33.9,31.2,33.4,32.8,34.2,32.3,33.5,33.0,32.1,
34.0,32.6,33.3,30.55,33.7,32.9,34.3,32.4,33.2,33.8,
32.6,34.0,33.1,32.3,33.6,32.9,34.5,32.5,33.4,32.0,
33.9,32.7,33.3,34.2,32.4,33.6,31.6,33.2,34.1,32.8,
33.5,32.3,33.9,33.0,32.6,34.3,33.2,32.5,33.7,32.9,
34.0,32.2,33.4,32.7,33.8,33.1,32.4,35.0,32.8,33.5,
32.6,34.1,33.0,32.3,33.6,32.9,34.4,32.5,33.2,35.4,
32.7,33.8,32.4,33.3,34.0,32.6,33.5,32.9,33.7,32.2,
34.2,33.0,32.5,33.6,32.8,34.0,33.3,32.6,33.9]
h_bapwv = [
34.1,33.2,33.8,33.0,34.4,33.5,32.8,34.0,33.3,33.9,
32.9,34.2,33.6,31.9,33.4,34.0,33.1,33.7,34.3,32.7,
33.5,34.1,33.0,33.8,33.4,34.6,32.9,33.6,33.2,34.0,
33.5,32.6,33.9,34.3,33.1,33.7,33.3,34.8,32.9,33.6,
34.1,33.4,30.7,33.8,33.2,34.0,33.5,32.8,33.9,34.2,
33.1,33.6,34.4,33.0,33.7,33.3,34.1,32.7,33.5,33.9,
33.2,34.3,33.6,33.0,33.8,34.5,33.4,32.9,33.7,34.0,
33.3,33.9,32.6,33.6,34.2,33.1,33.8,33.4,36.2,33.0,
33.5,34.0,33.2,33.7,32.8,34.3,33.4,33.9,33.1,35.2,
33.6,34.1,33.3,33.8,32.9,33.5,34.0,33.6,33.4]

history = [h_shadowMin, h_shadowMean, h_clopidogrel, h_statins, h_nitrates, h_bblockers,
           h_stroke, h_diabetes, h_gender, h_shadowMax, h_smoking, h_ccb, h_acei,
           h_diuretics, h_drinking, h_coronary, h_alt, h_aspirin, h_omi, h_hdlc, h_scr,
           h_ast, h_hba1c, h_hypertension, h_ldlc, h_age, h_hcy, h_famcvd, h_tc, h_neu,
           h_lpa, h_plt, h_fbg, h_dbp, h_lym, h_sbp, h_tg, h_bmi, h_hb, h_ivst,
           h_dyslipidemia, h_lad, h_hscrp, h_nstents, h_tyg, h_hr, h_pwt, h_lvef, h_lvdd,
           h_abi, h_fmd, h_bapwv]

# ---------------- styling ----------------
box_colors = {"shadow": "#0000FF", "rejected": "#FF0000", "tentative": "#FFFF00", "confirmed": "#00FF00"}
line_colors = {"shadow": "#0000FF", "rejected": "#FF0000", "tentative": "#FFFF00", "confirmed": "#00EE00"}
SERIF = "Liberation Serif"
SANS = "Liberation Sans"
FRAME = "#555555"

W, H = 744, 1099
fig = plt.figure(figsize=(W / 100, H / 100), dpi=100)


def rect(l, t, r, b):
    return [l / W, 1 - b / H, (r - l) / W, (b - t) / H]


def px(x):
    return x / W


def py(y):
    return 1 - y / H


# ---------------- Panel A ----------------
axA = fig.add_axes(rect(86, 6, 736, 447))
n = len(attributes)
positions = list(range(1, n + 1))
stats = []
for i in range(n):
    stats.append(dict(med=box_median[i], q1=box_q1[i], q3=box_q3[i],
                      whislo=box_whislo[i], whishi=box_whishi[i], fliers=box_fliers[i]))
bp = axA.bxp(stats, positions=positions, widths=0.7, capwidths=0.35, patch_artist=True,
             showfliers=True,
             boxprops=dict(edgecolor="#333333", linewidth=0.9),
             medianprops=dict(color="black", linewidth=2.4, solid_capstyle="butt"),
             whiskerprops=dict(color="#444444", linewidth=0.8, linestyle=(0, (3, 2))),
             capprops=dict(color="#444444", linewidth=0.9),
             flierprops=dict(marker="o", markerfacecolor="none", markeredgecolor="#222222",
                             markersize=5.5, markeredgewidth=0.8))
for patch, d in zip(bp["boxes"], decision):
    patch.set_facecolor(box_colors[d])

axA.set_xlim(0.5 - 0.04 * n, n + 0.5 + 0.04 * n)
ymin = min(min(box_whislo), min(min(f) for f in box_fliers if f))
ymax = max(max(box_whishi), max(max(f) for f in box_fliers if f))
pad = 0.04 * (ymax - ymin)
axA.set_ylim(ymin - pad, ymax + pad)
axA.set_yticks([0, 10, 20, 30])
axA.set_yticklabels(["0", "10", "20", "30"], rotation=90, va="center",
                    fontsize=10, family=SERIF)
axA.set_xticks(positions)
axA.set_xticklabels(attributes, rotation=60, ha="right", va="center",
                    rotation_mode="anchor", fontsize=7.8, family=SERIF)
axA.tick_params(axis="x", length=5, width=0.8, color=FRAME, pad=3)
axA.tick_params(axis="y", length=5, width=0.8, color=FRAME, pad=5)

# ---------------- Panel B ----------------
axB = fig.add_axes(rect(86, 563, 736, 1021))
runs = np.arange(len(h_shadowMin))
order = [i for i, d in enumerate(decision) if d == "confirmed"] + \
        [i for i, d in enumerate(decision) if d == "tentative"] + \
        [i for i, d in enumerate(decision) if d == "rejected"] + \
        [i for i, d in enumerate(decision) if d == "shadow"]
for i in order:
    axB.plot(runs, history[i], color=line_colors[decision[i]], linewidth=0.9)
axB.set_xlim(runs[0] - 0.04 * (runs[-1] - runs[0]), runs[-1] + 0.04 * (runs[-1] - runs[0]))
allv = np.concatenate([np.asarray(h) for h in history])
padB = 0.04 * (allv.max() - allv.min())
axB.set_ylim(allv.min() - padB, allv.max() + padB)
axB.set_xticks([0, 20, 40, 60, 80, 100])
axB.set_xticklabels(["0", "20", "40", "60", "80", "100"], fontsize=10, family=SERIF)
axB.set_yticks([0, 10, 20, 30])
axB.set_yticklabels(["0", "10", "20", "30"], rotation=90, va="center",
                    fontsize=10, family=SERIF)
axB.tick_params(axis="x", length=8, width=0.8, color=FRAME, pad=7)
axB.tick_params(axis="y", length=5, width=0.8, color=FRAME, pad=5)

for ax in (axA, axB):
    for s in ax.spines.values():
        s.set_color(FRAME)
        s.set_linewidth(1.0)

# ---------------- labels ----------------
fig.text(px(29), py(25), "A", fontsize=17, family=SANS, ha="center", va="center")
fig.text(px(29), py(574), "B", fontsize=17, family=SANS, ha="center", va="center")
fig.text(px(20), py(245), "Importance", rotation=90, fontsize=11.5, family=SERIF,
         ha="center", va="center")
fig.text(px(411), py(563), "Attributes", fontsize=11.5, family=SERIF, ha="center", va="center")
fig.text(px(20), py(790), "Importance", rotation=90, fontsize=11.5, family=SERIF,
         ha="center", va="center")
fig.text(px(411), py(1084), "Classifier run", fontsize=11.5, family=SERIF,
         ha="center", va="center")

fig.savefig("out.png", dpi=100)
